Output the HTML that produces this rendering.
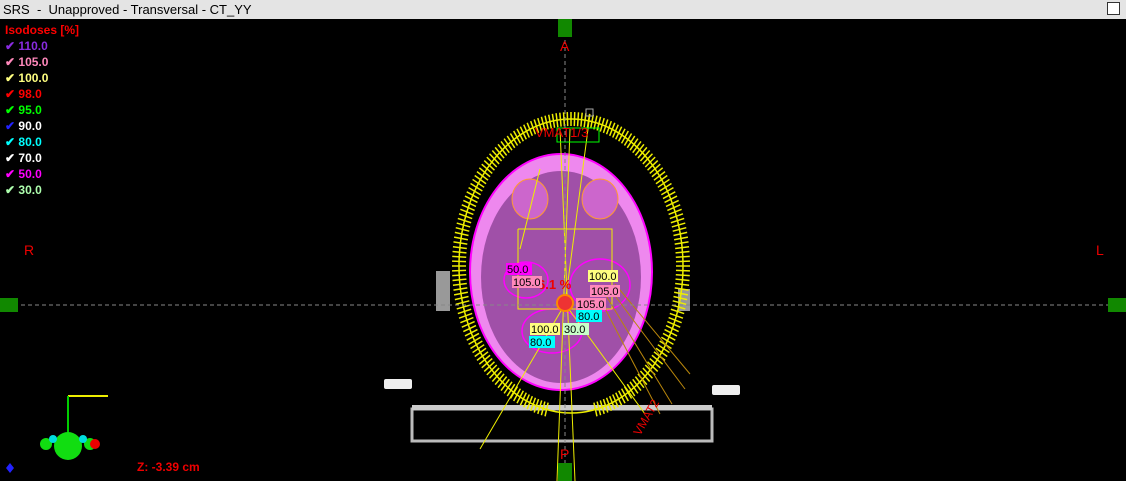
<!DOCTYPE html>
<html><head><meta charset="utf-8"><style>
body{margin:0;width:1126px;height:481px;overflow:hidden;background:#000;font-family:"Liberation Sans",sans-serif}
#title{position:absolute;left:0;top:0;width:1126px;height:19px;background:#e4e4e4;font-size:13px;line-height:19px;color:#000}
#title span{padding-left:3px}
.leg{position:absolute;left:5px;font-size:12px;font-weight:bold;line-height:16px;white-space:nowrap}
</style></head><body>
<div id="title"><span>SRS&nbsp; - &nbsp;Unapproved - Transversal - CT_YY</span>
<div style="position:absolute;right:6px;top:2px;width:13px;height:13px;border:1px solid #333;box-sizing:border-box;background:#fff"></div></div>
<div style="position:absolute;left:0;top:22px;width:120px">
<div class="leg" style="top:0;color:#f00">Isodoses [%]</div>
<div class="leg" style="top:16px;color:#8a2be2">✔ 110.0</div>
<div class="leg" style="top:32px;color:#ff88bb">✔ 105.0</div>
<div class="leg" style="top:48px;color:#ffff80">✔ 100.0</div>
<div class="leg" style="top:64px;color:#f00">✔ 98.0</div>
<div class="leg" style="top:80px;color:#0f0">✔ 95.0</div>
<div class="leg" style="top:96px;color:#fff"><span style="color:#22f">✔</span> 90.0</div>
<div class="leg" style="top:112px;color:#0ff">✔ 80.0</div>
<div class="leg" style="top:128px;color:#fff">✔ 70.0</div>
<div class="leg" style="top:144px;color:#f0f">✔ 50.0</div>
<div class="leg" style="top:160px;color:#aeffae">✔ 30.0</div>
</div>
<svg id="v" width="1126" height="462" style="position:absolute;left:0;top:19px">
<rect x="412" y="390" width="300" height="32" fill="none" stroke="#bbb" stroke-width="3"/>
<rect x="412" y="386" width="300" height="5" fill="#ccc"/>
<rect x="384" y="360" width="28" height="10" rx="2" fill="#eee"/>
<rect x="712" y="366" width="28" height="10" rx="2" fill="#eee"/>
<rect x="436" y="252" width="14" height="40" fill="#999"/>
<rect x="678" y="270" width="12" height="22" fill="#999"/>
<g id="ring"></g>
<ellipse cx="561" cy="253" rx="91" ry="118" fill="#ee88ee" stroke="#f0f" stroke-width="2"/>
<ellipse cx="561" cy="258" rx="80" ry="106" fill="#a050a8"/>
<ellipse cx="530" cy="180" rx="18" ry="20" fill="#cc66cc" stroke="#ff9933"/>
<ellipse cx="600" cy="180" rx="18" ry="20" fill="#cc66cc" stroke="#ff9933"/>
<ellipse cx="526" cy="261" rx="22" ry="18" fill="none" stroke="#f0f" stroke-width="1.5"/>
<ellipse cx="600" cy="266" rx="30" ry="26" fill="none" stroke="#f0f" stroke-width="1.5"/>
<ellipse cx="552" cy="312" rx="30" ry="22" fill="none" stroke="#f0f" stroke-width="1.5"/>
<g id="beams" stroke="#ee0" stroke-width="1" fill="none">
<line x1="560" y1="110" x2="575" y2="462"/><line x1="570" y1="110" x2="557" y2="462"/>
<line x1="590" y1="95" x2="565" y2="285"/><line x1="480" y1="430" x2="565" y2="285"/>
<line x1="565" y1="285" x2="645" y2="395"/><line x1="540" y1="150" x2="520" y2="230"/>
<polyline points="518,210 518,290 612,290 612,210 518,210"/>
</g>
<g stroke="#b8860b" stroke-width="1">
<line x1="600" y1="280" x2="660" y2="395"/><line x1="605" y1="275" x2="672" y2="385"/><line x1="610" y1="270" x2="685" y2="370"/><line x1="615" y1="265" x2="690" y2="355"/>
</g>
<rect x="557" y="109" width="42" height="14" fill="none" stroke="#0f0"/>
<rect x="586" y="90" width="7" height="7" fill="none" stroke="#aaa"/>
<text x="535" y="118" fill="#e00" font-size="13">VMAT1/3</text>
<text x="630" y="400" fill="#e00" font-size="12" transform="rotate(-60 650 400)">VMAT2</text>
<line x1="0" y1="286" x2="1126" y2="286" stroke="#888" stroke-dasharray="4,3"/>
<line x1="565" y1="0" x2="565" y2="462" stroke="#888" stroke-dasharray="4,3"/>
<rect x="0" y="279" width="18" height="14" fill="#180"/><rect x="1108" y="279" width="18" height="14" fill="#180"/>
<rect x="558" y="0" width="14" height="18" fill="#180"/><rect x="558" y="444" width="14" height="18" fill="#180"/>
<circle cx="565" cy="284" r="8" fill="#e33" stroke="#f80" stroke-width="2"/>
<text x="560" y="32" fill="#e00" font-size="14">A</text><text x="560" y="440" fill="#e00" font-size="14">P</text>
<text x="24" y="236" fill="#e00" font-size="14">R</text><text x="1096" y="236" fill="#e00" font-size="14">L</text>
<text x="538" y="270" fill="#e00" font-size="13" font-weight="bold">6.1 %</text>
<g font-size="11">
<rect x="506" y="244" width="26" height="12" fill="#f0f"/><text x="507" y="254">50.0</text>
<rect x="512" y="257" width="30" height="12" fill="#ff88bb"/><text x="513" y="267">105.0</text>
<rect x="588" y="251" width="30" height="12" fill="#ffff80"/><text x="589" y="261">100.0</text>
<rect x="590" y="266" width="30" height="12" fill="#ff88bb"/><text x="591" y="276">105.0</text>
<rect x="576" y="279" width="30" height="12" fill="#ff88bb"/><text x="577" y="289">105.0</text>
<rect x="576" y="291" width="26" height="12" fill="#0ff"/><text x="578" y="301">80.0</text>
<rect x="530" y="304" width="30" height="12" fill="#ffff80"/><text x="531" y="314">100.0</text>
<rect x="563" y="304" width="26" height="12" fill="#c8ffc8"/><text x="564" y="314">30.0</text>
<rect x="529" y="317" width="26" height="12" fill="#0ff"/><text x="530" y="327">80.0</text>
</g>
<polyline points="108,377 68,377" fill="none" stroke="#ee0" stroke-width="2"/>
<line x1="68" y1="377" x2="68" y2="418" stroke="#0c0" stroke-width="2"/>
<circle cx="68" cy="427" r="14" fill="#1d1"/>
<circle cx="46" cy="425" r="6" fill="#1d1"/><circle cx="90" cy="425" r="6" fill="#1d1"/>
<circle cx="95" cy="425" r="5" fill="#e00"/>
<circle cx="53" cy="420" r="4" fill="#0dd"/><circle cx="83" cy="420" r="4" fill="#0dd"/>
<polygon points="10,444 14,449 10,454 6,449" fill="#22f"/>
<text x="137" y="452" fill="#e00" font-size="12" font-weight="bold">Z: -3.39 cm</text>
</svg>
<script>
var g=document.getElementById('ring'),s='';
var cx=571,cy=247,rx=119,ry=154;
for(var i=0;i<200;i++){var a=i*2*Math.PI/200;if(Math.abs(a-Math.PI*0.5)<0.2)continue;
var c=Math.cos(a),sn=Math.sin(a);
s+='<line x1="'+(cx+(rx-14)*c)+'" y1="'+(cy+(ry-14)*sn)+'" x2="'+(cx+rx*c)+'" y2="'+(cy+ry*sn)+'" stroke="#ee0" stroke-width="1.5"/>';}
s+='<ellipse cx="'+cx+'" cy="'+cy+'" rx="'+(rx-7)+'" ry="'+(ry-7)+'" fill="none" stroke="#ee0" stroke-width="1.5"/>';
g.innerHTML=s;
</script>
</body></html>
